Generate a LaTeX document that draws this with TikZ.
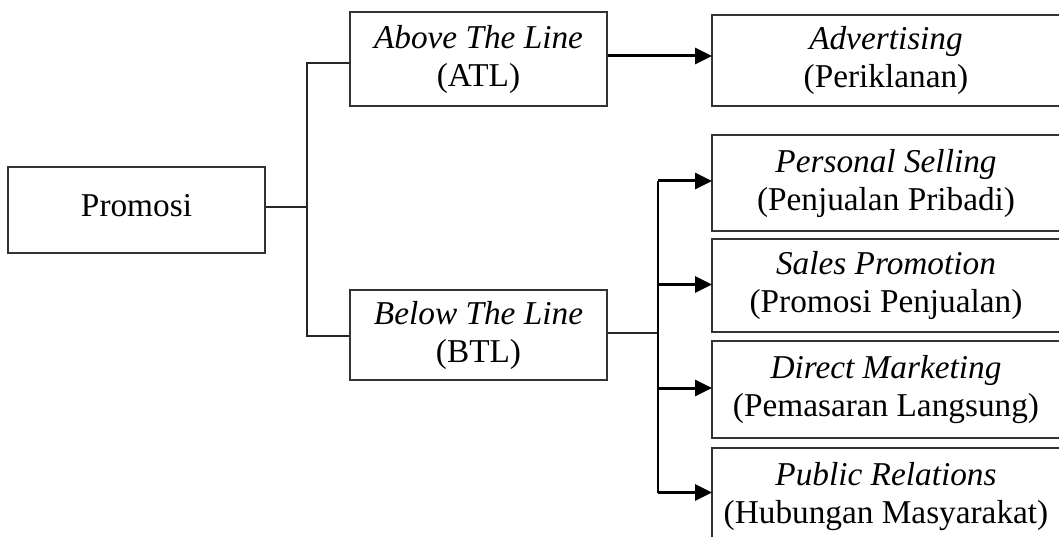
\documentclass[tikz,border=0pt]{standalone}
\usepackage{fontspec}
\setmainfont{Liberation Serif}
\usetikzlibrary{arrows.meta}

\tikzset{
  box/.style={draw=black!80, line width=1.4pt, rectangle, inner sep=0pt,
    align=center, font=\fontsize{33.3pt}{38pt}\selectfont},
  conn/.style={draw=black!85, line width=1.4pt},
  arr/.style={draw=black, line width=3pt,
    -{Triangle[length=17pt,width=16pt]}, shorten >=-0.7pt},
}

\begin{document}
\begin{tikzpicture}[x=1pt,y=-1pt]
  \useasboundingbox (0,0) rectangle (1059,537);
  \clip (0,0) rectangle (1059,537);

  % root
  \node[box, minimum width=257pt, minimum height=86pt] (promosi) at (136.5,210)
    {\raisebox{10pt}{Promosi}};

  % two channels
  \node[box, minimum width=257pt, minimum height=94pt] (atl) at (478.5,59)
    {\textit{Above The Line}\\(ATL)};
  \node[box, minimum width=257pt, minimum height=90pt] (btl) at (478.5,335)
    {\textit{Below The Line}\\(BTL)};

  % tools
  \node[box, minimum width=348pt, minimum height=91pt] (adv) at (886,60.5)
    {\textit{Advertising}\\(Periklanan)};
  \node[box, minimum width=348pt, minimum height=96pt] (ps) at (886,183)
    {\textit{Personal Selling}\\(Penjualan Pribadi)};
  \node[box, minimum width=348pt, minimum height=93pt] (sp) at (886,285.5)
    {\textit{Sales Promotion}\\(Promosi Penjualan)};
  \node[box, minimum width=348pt, minimum height=97pt] (dm) at (886,389.5)
    {\textit{Direct Marketing}\\(Pemasaran Langsung)};
  \node[box, minimum width=348pt, minimum height=97pt] (pr) at (886,496.5)
    {\textit{Public Relations}\\(Hubungan Masyarakat)};

  % bracket from the root to both channels
  \coordinate (j1) at (307,207);
  \draw[conn] ([yshift=3pt]promosi.east) -- (j1);
  \draw[conn] ([yshift=-4pt]atl.west) -| (j1) |- ([yshift=-1pt]btl.west);

  % ATL to its tool
  \draw[arr] ([yshift=3pt]atl.east) -- ([yshift=3pt]atl.east -| adv.west);

  % BTL trunk to its tools
  \coordinate (j2) at (658,333);
  \draw[conn] ([yshift=2pt]btl.east) -- (j2);
  \draw[conn, draw=black] ([yshift=2pt]j2 |- ps.west) -- ([yshift=4pt]j2 |- pr.west);
  \draw[arr] ([yshift=2pt]j2 |- ps.west) -- ([yshift=2pt]ps.west);
  \draw[arr] ([yshift=1pt]j2 |- sp.west) -- ([yshift=1pt]sp.west);
  \draw[arr] ([yshift=1.5pt]j2 |- dm.west) -- ([yshift=1.5pt]dm.west);
  \draw[arr] ([yshift=4pt]j2 |- pr.west) -- ([yshift=4pt]pr.west);
\end{tikzpicture}
\end{document}
